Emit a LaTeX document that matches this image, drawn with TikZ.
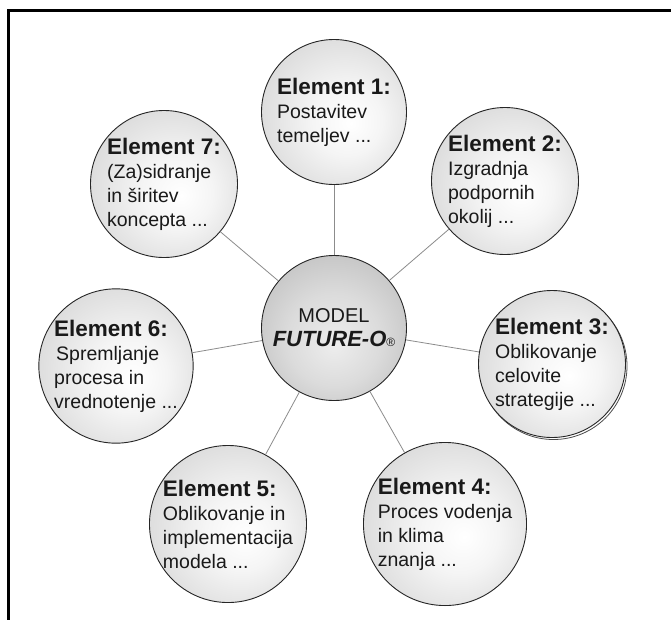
\documentclass[tikz,border=0pt]{standalone}
\usepackage{fontspec}
\setmainfont{Liberation Sans}
\pgfdeclareradialshading{elball}{\pgfpoint{6bp}{-4bp}}{color(0bp)=(white); color(12bp)=(white!96!black); color(38bp)=(white!81!black); color(50bp)=(white!66!black)}
\pgfdeclareradialshading{cball}{\pgfpoint{0bp}{-6bp}}{color(0bp)=(white!93!black); color(16bp)=(white!86!black); color(40bp)=(white!70!black); color(50bp)=(white!58!black)}
\newcommand\elemtitle[1]{{\fontsize{22.5}{24}\selectfont\bfseries #1}}
\begin{document}
\begin{tikzpicture}[x=1pt,y=-1pt,
  elem/.style={circle, draw=black!85, line width=0.9pt, shading=elball,
    minimum size=147pt, inner sep=0pt, align=left,
    font=\fontsize{19.5}{24}\selectfont, text=black!90},
  ring/.style={draw=black!70, line width=0.8pt},
  conn/.style={draw=black!45, line width=0.8pt},
  frameline/.style={line width=3pt, line cap=rect}]
\useasboundingbox (0,0) rectangle (671,619);
\fill[white] (0,0) rectangle (671,619);
\draw[frameline] (8,619) -- (8,10) -- (671,10);

% secondary rings (double-outline look)
\draw[ring] (553.5,366) circle[radius=73.5pt];
\draw[ring] (445,524) circle[radius=75.5pt];
\draw[ring] (226,525.5) circle[radius=73.5pt];

\node[circle, draw=black!85, line width=0.9pt, shading=cball, minimum size=145pt,
  inner sep=0pt, align=center, text=black!90,
  font=\fontsize{20}{24}\selectfont] (c) at (334,328)
  {MODEL\\
   {\fontsize{22}{24}\selectfont\bfseries\itshape FUTURE-O}{\fontsize{12}{12}\selectfont ®}};

\node[elem, minimum size=145pt] (e1) at (334,112) {\elemtitle{Element 1:}\\Postavitev\\temeljev ...};
\node[elem] (e2) at (505,181) {\elemtitle{Element 2:}\\Izgradnja\\podpornih\\okolij ...};
\node[elem] (e3) at (552,364) {\elemtitle{Element 3:}\\Oblikovanje\\celovite\\strategije ...};
\node[elem] (e4) at (445,524) {\elemtitle{Element 4:}\\Proces vodenja\\in klima\\znanja ...};
\node[elem] (e5) at (228,524) {\elemtitle{Element 5:}\\Oblikovanje in\\implementacija\\modela ...};
\node[elem] (e6) at (116,366) {\elemtitle{Element 6:}\\\hspace*{2pt}Spremljanje\\procesa in\\vrednotenje ...};
\node[elem] (e7) at (164,184) {\elemtitle{Element 7:}\\(Za)sidranje\\in širitev\\koncepta ...};

\foreach \e in {e1,e2,e3,e4,e5,e6,e7}
  \draw[conn] (c) -- (\e);
\end{tikzpicture}
\end{document}
